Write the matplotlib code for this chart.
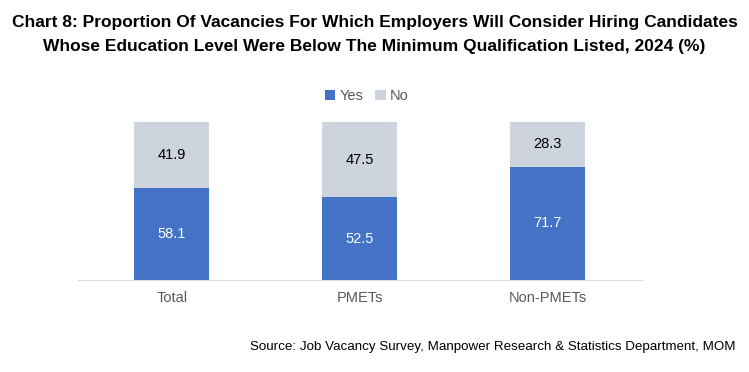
import numpy as np
import matplotlib.pyplot as plt

plt.rcParams['font.family'] = ['Liberation Sans', 'DejaVu Sans']

# dados do grafico
categorias = ['Total', 'PMETs', 'Non-PMETs']
sim = [58.1, 52.5, 71.7]
nao = [41.9, 47.5, 28.3]

cor_sim = '#4472C4'
cor_nao = '#CDD4DE'

fig = plt.figure(figsize=(7.49, 3.72), dpi=100)
ax = fig.add_axes([0.104, 0.247, 0.753, 0.425])

x = np.arange(len(categorias))
b1 = ax.bar(x, sim, width=0.4, color=cor_sim, label='Yes')
b2 = ax.bar(x, nao, width=0.4, bottom=sim, color=cor_nao, label='No')

for i in range(len(categorias)):
    ax.text(x[i], sim[i] / 2, f'{sim[i]:.1f}', ha='center', va='center',
            color='white', fontsize=10.5)
    ax.text(x[i], sim[i] + nao[i] / 2, f'{nao[i]:.1f}', ha='center', va='center',
            color='black', fontsize=10.5)

ax.set_xlim(-0.5, 2.5)
ax.set_ylim(0, 100)
ax.set_xticks(x)
ax.set_xticklabels(categorias, fontsize=10.5, color='#595959')
ax.tick_params(axis='x', length=0, pad=8)
ax.set_yticks([])
for lado in ['top', 'right', 'left']:
    ax.spines[lado].set_visible(False)
ax.spines['bottom'].set_color('#D9D9D9')

fig.legend(handles=[b1, b2], loc='center', bbox_to_anchor=(0.49, 0.742), ncol=2,
           frameon=False, fontsize=10.5, handlelength=0.7, handleheight=0.7,
           handletextpad=0.3, columnspacing=0.8, labelcolor='#595959')

fig.text(0.5, 0.94, 'Chart 8: Proportion Of Vacancies For Which Employers Will Consider Hiring Candidates',
         ha='center', va='center', fontsize=12.5, fontweight='bold')
fig.text(0.5, 0.875, 'Whose Education Level Were Below The Minimum Qualification Listed, 2024 (%)',
         ha='center', va='center', fontsize=12.5, fontweight='bold')

fig.text(0.982, 0.067, 'Source: Job Vacancy Survey, Manpower Research & Statistics Department, MOM',
         ha='right', va='center', fontsize=9.6)

fig.savefig('out.png', dpi=100)
